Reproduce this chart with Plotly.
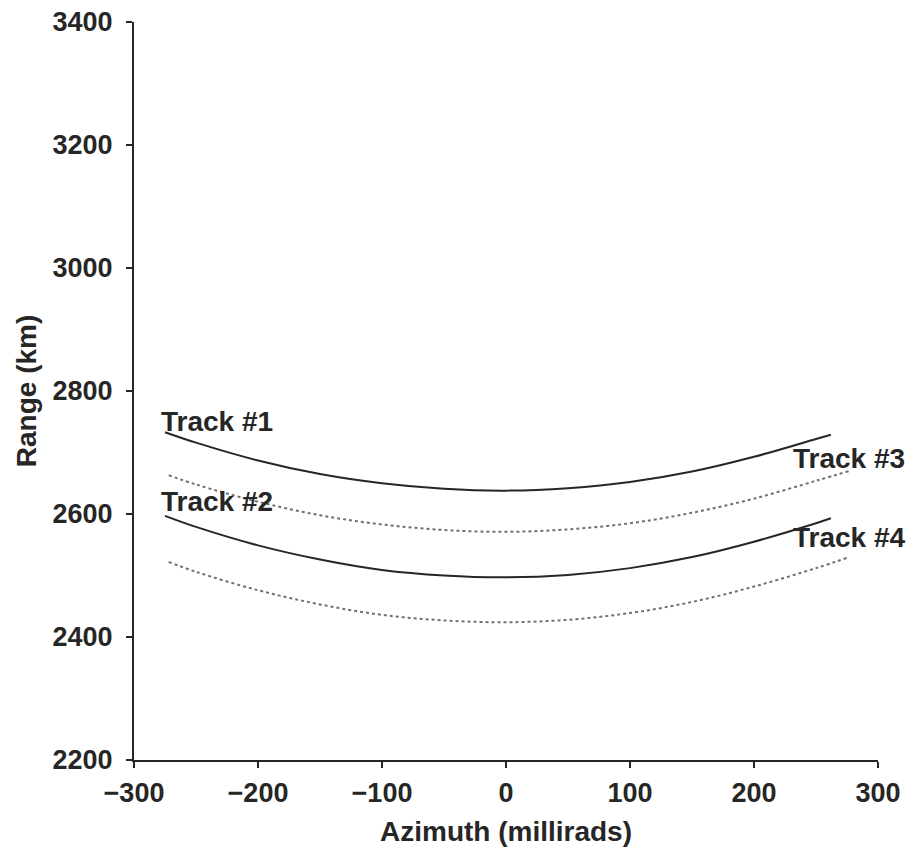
import plotly.graph_objects as go

# Data
t1_x = [-275, -250, -200, -150, -100, -50, 0, 50, 100, 150, 200, 250, 262]
t1_y = [2733, 2716, 2687, 2665, 2650, 2641, 2638, 2642, 2652, 2669, 2693, 2722, 2729]

t2_x = [-272, -250, -200, -150, -100, -50, 0, 50, 100, 150, 200, 250, 277]
t2_y = [2663, 2648, 2620, 2598, 2583, 2574, 2571, 2575, 2585, 2602, 2625, 2654, 2670]

t3_x = [-275, -250, -200, -150, -100, -50, 0, 50, 100, 150, 200, 250, 262]
t3_y = [2597, 2579, 2549, 2526, 2509, 2500, 2497, 2501, 2512, 2530, 2555, 2585, 2593]

t4_x = [-272, -250, -200, -150, -100, -50, 0, 50, 100, 150, 200, 250, 277]
t4_y = [2522, 2506, 2476, 2453, 2436, 2427, 2424, 2428, 2439, 2457, 2482, 2512, 2530]

labels = ["Track #1", "Track #2", "Track #3", "Track #4"]
label_x = [-233, -233, 277, 277]
label_y = [2750, 2620, 2691, 2561]

x_ticks = [-300, -200, -100, 0, 100, 200, 300]
y_ticks = [2200, 2400, 2600, 2800, 3000, 3200, 3400]

FONT = "Liberation Sans, Arial, Helvetica, sans-serif"
INK = "#262626"
solid = dict(color=INK, width=2, shape="spline")
dotted = dict(color="#707070", width=2, dash="dot", shape="spline")

fig = go.Figure()
fig.add_trace(go.Scatter(x=t1_x, y=t1_y, mode="lines", line=solid))
fig.add_trace(go.Scatter(x=t2_x, y=t2_y, mode="lines", line=dotted))
fig.add_trace(go.Scatter(x=t3_x, y=t3_y, mode="lines", line=solid))
fig.add_trace(go.Scatter(x=t4_x, y=t4_y, mode="lines", line=dotted))

for txt, lx, ly in zip(labels, label_x, label_y):
    fig.add_annotation(x=lx, y=ly, text=txt, showarrow=False,
                       font=dict(family=FONT, size=28, color=INK, weight="bold"))

axis_common = dict(showline=True, linecolor=INK, linewidth=2,
                   ticks="outside", ticklen=6, tickwidth=2, tickcolor=INK,
                   showgrid=False, zeroline=False, automargin=False,
                   tickfont=dict(family=FONT, size=27, color=INK, weight="bold"))

fig.update_xaxes(range=[-300, 300], tickvals=x_ticks, ticklabelstandoff=2,
                 title=dict(text="Azimuth (millirads)", standoff=14,
                            font=dict(family=FONT, size=28, color=INK, weight="bold")),
                 **axis_common)
fig.update_yaxes(range=[2200, 3400], tickvals=y_ticks, ticklabelstandoff=8,
                 title=dict(text="Range (km)", standoff=8,
                            font=dict(family=FONT, size=28, color=INK, weight="bold")),
                 **axis_common)

fig.update_layout(width=915, height=853, showlegend=False,
                  plot_bgcolor="white", paper_bgcolor="white",
                  margin=dict(l=134, r=37, t=22, b=93))

fig.write_html("out.html")
